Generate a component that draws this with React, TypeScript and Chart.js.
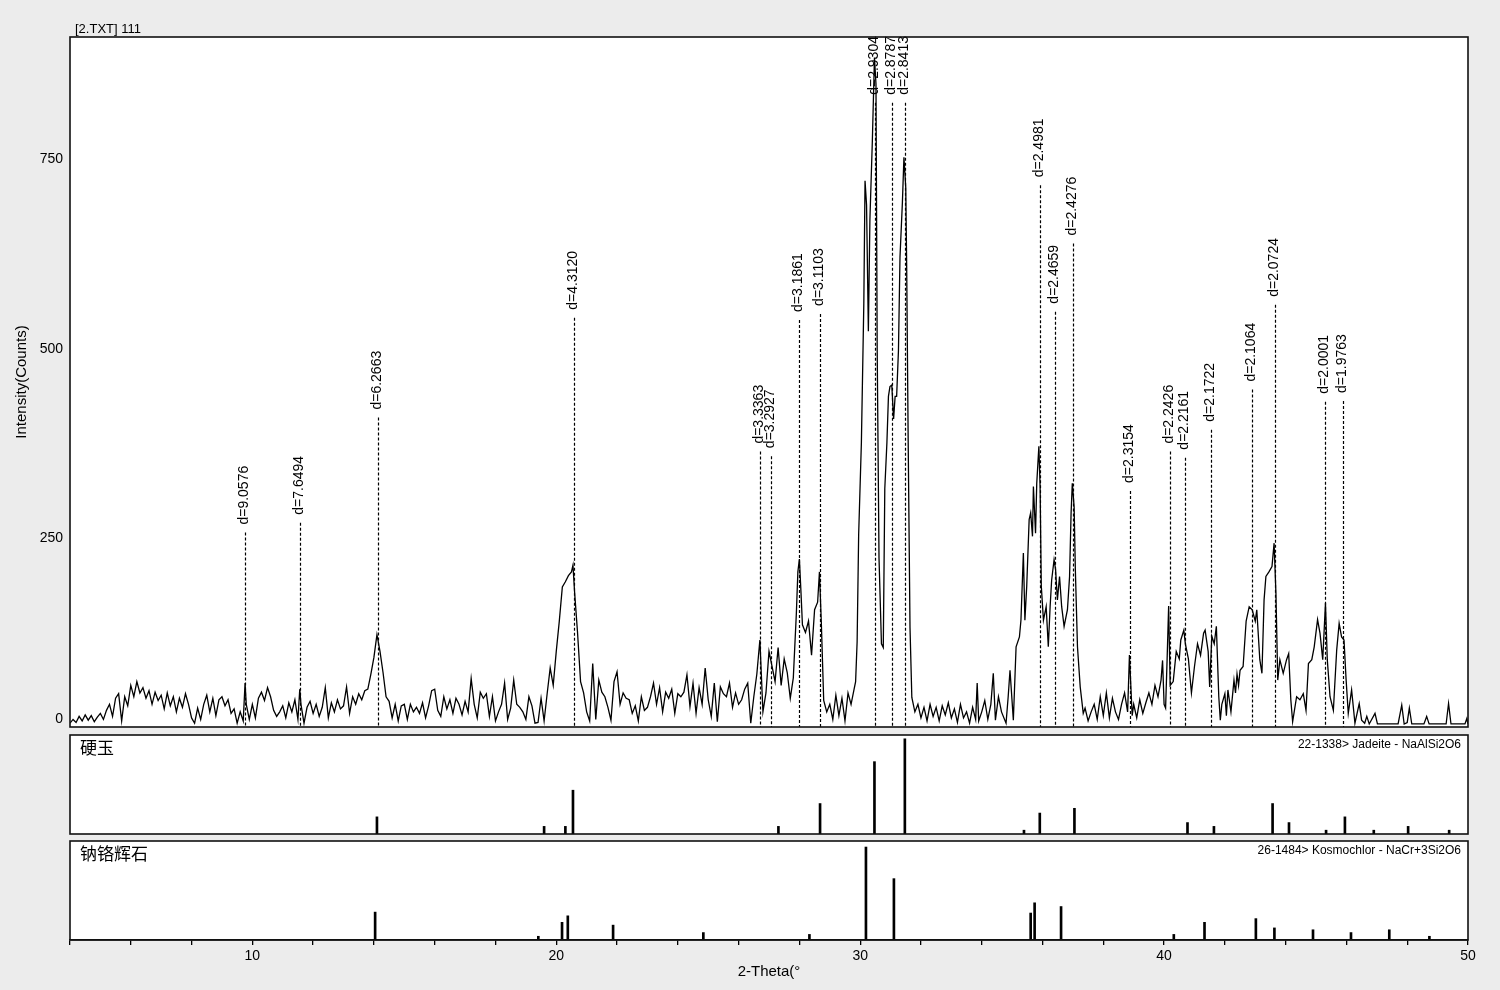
import React, { useEffect, useRef } from "react";
import { Chart, registerables } from "chart.js";

Chart.register(...registerables);

const FONT = '"Liberation Sans", Arial, sans-serif';
const CJK = '"Noto Sans CJK SC", "Noto Sans CJK JP", sans-serif';

const X_MIN = 4;
const X_MAX = 50;
const X_TICK_STEP = 2;
const xTickLabels = [10, 20, 30, 40, 50];
const yTickLabels = [0, 250, 500, 750];
const Y_MAX = 912;

// Scan: [2-theta, counts]
const scan04to10 = [
  [4.0, 5], [4.1, 10], [4.2, 6], [4.3, 14], [4.4, 8], [4.5, 16], [4.6, 9], [4.7, 15], [4.8, 7], [4.9, 13],
  [5.0, 18], [5.1, 10], [5.2, 22], [5.3, 30], [5.4, 14], [5.5, 38], [5.6, 44], [5.7, 8], [5.8, 40], [5.9, 28],
  [6.0, 55], [6.1, 40], [6.2, 60], [6.3, 45], [6.4, 52], [6.5, 38], [6.6, 48], [6.7, 30], [6.8, 46], [6.9, 35],
  [7.0, 42], [7.1, 24], [7.2, 45], [7.3, 28], [7.4, 40], [7.5, 20], [7.6, 38], [7.7, 26], [7.8, 44], [7.9, 30],
  [8.0, 12], [8.1, 5], [8.2, 25], [8.3, 10], [8.4, 30], [8.5, 42], [8.6, 20], [8.7, 38], [8.8, 15], [8.9, 36],
  [9.0, 40], [9.1, 28], [9.2, 36], [9.3, 18], [9.4, 24], [9.5, 5], [9.6, 20], [9.7, 8], [9.76, 58], [9.8, 30], [9.9, 10],
];
const scan10to20 = [
  [10.0, 30], [10.1, 12], [10.2, 38], [10.3, 46], [10.4, 35], [10.5, 52], [10.6, 40], [10.7, 22], [10.8, 14], [10.9, 20],
  [11.0, 28], [11.1, 12], [11.2, 32], [11.3, 20], [11.4, 36], [11.5, 10], [11.56, 50], [11.6, 30], [11.7, 5], [11.8, 26], [11.9, 34],
  [12.0, 18], [12.1, 30], [12.2, 14], [12.3, 26], [12.4, 52], [12.5, 12], [12.6, 32], [12.7, 20], [12.8, 36], [12.9, 24],
  [13.0, 28], [13.1, 53], [13.2, 18], [13.3, 40], [13.4, 30], [13.5, 44], [13.6, 36], [13.7, 48], [13.8, 50], [13.9, 70],
  [14.0, 92], [14.1, 122], [14.2, 100], [14.3, 72], [14.4, 40], [14.5, 34], [14.6, 12], [14.7, 30], [14.8, 8], [14.9, 28],
  [15.0, 30], [15.1, 10], [15.2, 30], [15.3, 20], [15.4, 26], [15.5, 18], [15.6, 32], [15.7, 12], [15.8, 28], [15.9, 48],
  [16.0, 50], [16.1, 22], [16.2, 14], [16.3, 40], [16.4, 24], [16.5, 36], [16.6, 18], [16.7, 38], [16.8, 30], [16.9, 16],
  [17.0, 34], [17.1, 20], [17.2, 64], [17.3, 30], [17.4, 12], [17.5, 46], [17.6, 38], [17.7, 44], [17.8, 14], [17.9, 40],
  [18.0, 8], [18.1, 20], [18.2, 30], [18.3, 58], [18.4, 10], [18.5, 25], [18.6, 62], [18.7, 30], [18.8, 26], [18.9, 20],
  [19.0, 10], [19.1, 40], [19.2, 28], [19.3, 5], [19.4, 6], [19.5, 38], [19.6, 8], [19.7, 44], [19.8, 78], [19.9, 55],
];
const scan20to30 = [
  [20.0, 100], [20.1, 140], [20.2, 185], [20.3, 192], [20.4, 200], [20.5, 205], [20.55, 214], [20.6, 180], [20.7, 125], [20.8, 60], [20.9, 45],
  [21.0, 20], [21.1, 8], [21.2, 84], [21.3, 10], [21.4, 62], [21.5, 46], [21.6, 40], [21.7, 26], [21.8, 9], [21.9, 60],
  [22.0, 73], [22.1, 30], [22.2, 45], [22.3, 38], [22.4, 36], [22.5, 18], [22.6, 28], [22.7, 8], [22.8, 40], [22.9, 22],
  [23.0, 26], [23.1, 40], [23.2, 58], [23.3, 30], [23.4, 52], [23.5, 20], [23.6, 46], [23.7, 38], [23.8, 50], [23.9, 18],
  [24.0, 44], [24.1, 40], [24.2, 46], [24.3, 69], [24.4, 27], [24.5, 58], [24.6, 18], [24.7, 52], [24.8, 30], [24.9, 78],
  [25.0, 36], [25.1, 14], [25.2, 58], [25.3, 7], [25.4, 53], [25.5, 44], [25.6, 40], [25.7, 58], [25.8, 26], [25.9, 45],
  [26.0, 30], [26.1, 36], [26.2, 50], [26.3, 58], [26.4, 5], [26.5, 40], [26.6, 70], [26.7, 115], [26.8, 20], [26.9, 45],
  [27.0, 100], [27.1, 80], [27.2, 60], [27.3, 105], [27.4, 55], [27.5, 90], [27.6, 72], [27.7, 38], [27.8, 65], [27.9, 150], [27.95, 205],
  [28.0, 222], [28.05, 180], [28.1, 135], [28.2, 125], [28.3, 140], [28.4, 95], [28.5, 155], [28.6, 165], [28.66, 205], [28.72, 140], [28.8, 35], [28.9, 20],
  [29.0, 30], [29.1, 10], [29.2, 42], [29.3, 15], [29.4, 38], [29.5, 8], [29.6, 45], [29.7, 30], [29.8, 50], [29.85, 60], [29.9, 113], [29.95, 254],
];
const scan30to40 = [
  [30.04, 376], [30.12, 560], [30.16, 722], [30.21, 690], [30.27, 523], [30.32, 670], [30.4, 774], [30.47, 885], [30.52, 850], [30.56, 498],
  [30.62, 223], [30.7, 110], [30.76, 105], [30.81, 315], [30.88, 376], [30.93, 437], [30.98, 450], [31.04, 452], [31.1, 407], [31.15, 437],
  [31.2, 437], [31.26, 498], [31.31, 621], [31.39, 694], [31.44, 753], [31.5, 713], [31.53, 609], [31.58, 376], [31.64, 131], [31.7, 39], [31.8, 20], [31.9, 30],
  [32.0, 12], [32.1, 26], [32.2, 8], [32.3, 30], [32.4, 14], [32.5, 26], [32.6, 8], [32.7, 28], [32.8, 16], [32.9, 32],
  [33.0, 12], [33.1, 24], [33.2, 6], [33.3, 30], [33.4, 12], [33.5, 20], [33.6, 5], [33.7, 26], [33.8, 10], [33.85, 58], [33.9, 8],
  [34.0, 20], [34.1, 35], [34.2, 10], [34.3, 30], [34.38, 71], [34.45, 9], [34.55, 40], [34.65, 20], [34.8, 5], [34.87, 40], [34.93, 75],
  [35.04, 9], [35.13, 106], [35.24, 119], [35.29, 141], [35.37, 230], [35.42, 141], [35.48, 186], [35.56, 274], [35.61, 283], [35.67, 252],
  [35.7, 318], [35.77, 256], [35.81, 322], [35.88, 371], [35.92, 318], [35.96, 186],
  [36.03, 141], [36.12, 159], [36.19, 106], [36.25, 159], [36.3, 194], [36.38, 221], [36.43, 208], [36.49, 168], [36.56, 199], [36.63, 159],
  [36.71, 133], [36.82, 155], [36.89, 199], [36.94, 283], [36.98, 322],
  [37.04, 291], [37.08, 208], [37.15, 106], [37.24, 53], [37.34, 18], [37.4, 25], [37.5, 8], [37.6, 20], [37.7, 30], [37.8, 10], [37.9, 40],
  [38.0, 15], [38.1, 45], [38.2, 12], [38.3, 38], [38.4, 20], [38.5, 10], [38.6, 30], [38.7, 45], [38.8, 20], [38.86, 95], [38.95, 15],
  [39.0, 30], [39.1, 12], [39.2, 36], [39.3, 18], [39.4, 32], [39.5, 45], [39.6, 30], [39.7, 55], [39.8, 40], [39.9, 62], [39.95, 88],
];
const scan40to50 = [
  [40.0, 30], [40.05, 25], [40.1, 90], [40.15, 160], [40.2, 55], [40.3, 60], [40.4, 100], [40.5, 90], [40.55, 115], [40.65, 128],
  [40.7, 110], [40.8, 90], [40.9, 45], [41.0, 80], [41.1, 110], [41.2, 95], [41.3, 124], [41.35, 128], [41.45, 100], [41.5, 53],
  [41.57, 120], [41.65, 110], [41.72, 133], [41.8, 40], [41.85, 9],
  [41.9, 30], [42.0, 44], [42.05, 15], [42.1, 49], [42.2, 20], [42.3, 62], [42.35, 45], [42.4, 70], [42.45, 55], [42.5, 75], [42.6, 80],
  [42.7, 140], [42.8, 159], [42.9, 155], [43.0, 140], [43.05, 155], [43.15, 89], [43.22, 71], [43.29, 168], [43.35, 199], [43.45, 205],
  [43.55, 212], [43.62, 243], [43.68, 177], [43.74, 62], [43.81, 89], [43.92, 71],
  [44.03, 89], [44.1, 97], [44.17, 36], [44.23, 7], [44.36, 40], [44.47, 36], [44.58, 44], [44.67, 22], [44.75, 84], [44.86, 89], [44.94, 106],
  [45.05, 142], [45.13, 124], [45.22, 89], [45.31, 164], [45.37, 89], [45.46, 40], [45.57, 22], [45.68, 102], [45.76, 137], [45.84, 119],
  [45.92, 115], [45.99, 62],
  [46.06, 18], [46.17, 49], [46.28, 5], [46.42, 31], [46.5, 9], [46.6, 5], [46.67, 14], [46.75, 4], [46.94, 18],
  [47.02, 4], [47.7, 4], [47.82, 29], [47.9, 4], [48.0, 6], [48.07, 25], [48.15, 4], [48.55, 4], [48.64, 14], [48.72, 4],
  [49.28, 4], [49.36, 31], [49.44, 4], [49.9, 4], [49.96, 11], [50.0, 4],
];

// Peak annotations
const peakAngles = [9.757, 11.559, 14.122, 20.582, 26.698, 27.058, 27.982, 28.678, 30.48, 31.041, 31.46,
  35.92, 36.406, 37.001, 38.864, 40.179, 40.68, 41.54, 42.901, 43.64, 45.304, 45.88];
const peakNames = ["d=9.0576", "d=7.6494", "d=6.2663", "d=4.3120", "d=3.3363", "d=3.2927", "d=3.1861", "d=3.1103",
  "d=2.9304", "d=2.8787", "d=2.8413", "d=2.4981", "d=2.4659", "d=2.4276", "d=2.3154", "d=2.2426", "d=2.2161",
  "d=2.1722", "d=2.1064", "d=2.0724", "d=2.0001", "d=1.9763"];
const peakMarkerTops = [257, 270, 409, 541, 364, 358, 538, 546, 825, 825, 825,
  716, 549, 639, 312, 364, 356, 393, 446, 558, 430, 431];

// Reference patterns
const jadeAngles = [14.10, 19.60, 20.30, 20.55, 27.31, 28.68, 30.47, 31.47, 35.39, 35.91, 37.05, 40.77, 41.64, 43.57, 44.11, 45.33, 45.95, 46.90, 48.03, 49.38];
const jadeIntensity = [18, 8, 8, 46, 8, 32, 76, 100, 4, 22, 27, 12, 8, 32, 12, 4, 18, 4, 8, 4];
const kosAngles = [14.04, 19.41, 20.19, 20.38, 21.87, 24.84, 28.33, 30.19, 31.11, 35.61, 35.74, 36.61, 40.32, 41.33, 43.02, 43.63, 44.90, 46.15, 47.41, 48.73];
const kosIntensity = [30, 4, 19, 26, 16, 8, 6, 100, 66, 29, 40, 36, 6, 19, 23, 13, 11, 8, 11, 4];

const titleText = "[2.TXT] 111";
const yTitle = "Intensity(Counts)";
const xTitle = "2-Theta(°";
const jadeName = "硬玉";
const jadeCard = "22-1338> Jadeite - NaAlSi2O6";
const kosName = "钠铬辉石";
const kosCard = "26-1484> Kosmochlor - NaCr+3Si2O6";

const framePlugin = {
  id: "frame",
  afterDraw(chart: any) {
    const { ctx, chartArea: a } = chart;
    ctx.save();
    ctx.strokeStyle = "#111";
    ctx.lineWidth = 1.6;
    ctx.strokeRect(a.left, a.top, a.right - a.left, a.bottom - a.top);
    ctx.restore();
  },
};

const mainPlugin = {
  id: "mainDecor",
  beforeDatasetsDraw(chart: any) {
    const { ctx, chartArea, scales } = chart;
    const x = scales.x, y = scales.y;
    ctx.save();
    ctx.strokeStyle = "#000";
    ctx.lineWidth = 1.2;
    ctx.setLineDash([3, 2]);
    peakAngles.forEach((ang, i) => {
      const px = Math.round(x.getPixelForValue(ang)) + 0.5;
      const top = y.getPixelForValue(peakMarkerTops[i]);
      ctx.beginPath();
      ctx.moveTo(px, top);
      ctx.lineTo(px, chartArea.bottom);
      ctx.stroke();
    });
    ctx.restore();
  },
  afterDraw(chart: any) {
    const { ctx, chartArea, scales } = chart;
    const x = scales.x, y = scales.y;
    ctx.save();
    ctx.fillStyle = "#000";
    // peak labels
    ctx.font = `14px ${FONT}`;
    peakAngles.forEach((ang, i) => {
      const px = Math.round(x.getPixelForValue(ang)) - 1;
      const top = y.getPixelForValue(peakMarkerTops[i]);
      ctx.save();
      ctx.translate(px, top - 8);
      ctx.rotate(-Math.PI / 2);
      ctx.textAlign = "left";
      ctx.textBaseline = "middle";
      ctx.fillText(peakNames[i], 0, 0);
      ctx.restore();
    });
    // y tick labels
    ctx.font = `14px ${FONT}`;
    ctx.textAlign = "right";
    ctx.textBaseline = "middle";
    yTickLabels.forEach((v) => {
      let py = y.getPixelForValue(v);
      if (v === 0) py -= 8;
      ctx.fillText(String(v), chartArea.left - 7, py);
    });
    // y title
    ctx.save();
    ctx.font = `15px ${FONT}`;
    ctx.translate(22, 382);
    ctx.rotate(-Math.PI / 2);
    ctx.textAlign = "center";
    ctx.textBaseline = "middle";
    ctx.fillText(yTitle, 0, 0);
    ctx.restore();
    // top title
    ctx.font = `13px ${FONT}`;
    ctx.textAlign = "left";
    ctx.textBaseline = "middle";
    ctx.fillText(titleText, 75, 29);
    ctx.restore();
  },
};

function panelPlugin(name: string, card: string) {
  return {
    id: "panelDecor",
    afterDraw(chart: any) {
      const { ctx, chartArea } = chart;
      ctx.save();
      ctx.fillStyle = "#000";
      ctx.textBaseline = "middle";
      ctx.textAlign = "left";
      ctx.font = `17px ${CJK}`;
      ctx.fillText(name, 80, chartArea.top + 13);
      ctx.textAlign = "right";
      ctx.font = `12px ${FONT}`;
      ctx.fillText(card, chartArea.right - 7, chartArea.top + 10);
      ctx.restore();
    },
  };
}

const baseOpts = {
  responsive: false,
  animation: false as const,
  devicePixelRatio: 1,
  events: [] as any[],
  plugins: { legend: { display: false }, tooltip: { enabled: false }, title: { display: false } },
};

function stickDataset(angles: number[], values: number[]) {
  return {
    type: "bar" as const,
    data: angles.map((a, i) => ({ x: a, y: values[i] })),
    backgroundColor: "#000",
    borderWidth: 0,
    barThickness: 2,
  };
}

export default function App() {
  const mainRef = useRef<HTMLCanvasElement>(null);
  const jadeRef = useRef<HTMLCanvasElement>(null);
  const kosRef = useRef<HTMLCanvasElement>(null);

  useEffect(() => {
    const scan = [...scan04to10, ...scan10to20, ...scan20to30, ...scan30to40, ...scan40to50].map(([a, c]) => ({ x: a, y: c }));

    const main = new Chart(mainRef.current as HTMLCanvasElement, {
      type: "line",
      data: {
        datasets: [{
          data: scan,
          borderColor: "#000",
          borderWidth: 1.3,
          pointRadius: 0,
          tension: 0,
          fill: false,
        }],
      },
      options: {
        ...baseOpts,
        layout: { padding: { left: 70, right: 32, top: 37, bottom: 8 } },
        scales: {
          x: { type: "linear", min: X_MIN, max: X_MAX, display: false },
          y: { type: "linear", min: 0, max: Y_MAX, display: false },
        },
      } as any,
      plugins: [mainPlugin, framePlugin],
    });

    const jade = new Chart(jadeRef.current as HTMLCanvasElement, {
      type: "bar",
      data: { datasets: [stickDataset(jadeAngles, jadeIntensity)] },
      options: {
        ...baseOpts,
        layout: { padding: { left: 70, right: 32, top: 7, bottom: 4 } },
        scales: {
          x: { type: "linear", min: X_MIN, max: X_MAX, display: false, offset: false, grid: { offset: false } },
          y: { type: "linear", min: 0, max: 104, display: false },
        },
      } as any,
      plugins: [panelPlugin(jadeName, jadeCard), framePlugin],
    });

    const kos = new Chart(kosRef.current as HTMLCanvasElement, {
      type: "bar",
      data: { datasets: [stickDataset(kosAngles, kosIntensity)] },
      options: {
        ...baseOpts,
        layout: { padding: { left: 70, right: 32, top: 5, bottom: 0 } },
        scales: {
          x: {
            type: "linear",
            min: X_MIN,
            max: X_MAX,
            offset: false,
            position: "bottom",
            afterFit: (s: any) => { s.height = 50; },
            ticks: {
              stepSize: X_TICK_STEP,
              autoSkip: false,
              maxRotation: 0,
              color: "#000",
              padding: 3,
              font: { family: FONT, size: 14 },
              callback: (v: any) => (xTickLabels.includes(Number(v)) ? String(v) : ""),
            },
            grid: { offset: false, drawOnChartArea: false, drawTicks: true, tickLength: 5, color: "#000", lineWidth: 1.3 },
            border: { display: true, color: "#111", width: 1.6 },
            title: {
              display: true,
              text: xTitle,
              color: "#000",
              font: { family: FONT, size: 15 },
              padding: { top: 0, bottom: 9 },
            },
          },
          y: { type: "linear", min: 0, max: 106.5, display: false },
        },
      } as any,
      plugins: [panelPlugin(kosName, kosCard), framePlugin],
    });

    return () => {
      main.destroy();
      jade.destroy();
      kos.destroy();
    };
  }, []);

  const canvasStyle = (top: number, h: number): React.CSSProperties => ({
    position: "absolute",
    left: 0,
    top,
    width: 1500,
    height: h,
  });

  return (
    <div style={{ position: "fixed", left: 0, top: 0, width: 1500, height: 990, background: "#ececec", overflow: "hidden" }}>
      <div style={{ position: "absolute", left: 70, top: 37, width: 1398, height: 690, background: "#fff" }} />
      <div style={{ position: "absolute", left: 70, top: 735, width: 1398, height: 99, background: "#fff" }} />
      <div style={{ position: "absolute", left: 70, top: 841, width: 1398, height: 99, background: "#fff" }} />
      <canvas ref={mainRef} width={1500} height={735} style={canvasStyle(0, 735)} />
      <canvas ref={jadeRef} width={1500} height={110} style={canvasStyle(728, 110)} />
      <canvas ref={kosRef} width={1500} height={154} style={canvasStyle(836, 154)} />
    </div>
  );
}
